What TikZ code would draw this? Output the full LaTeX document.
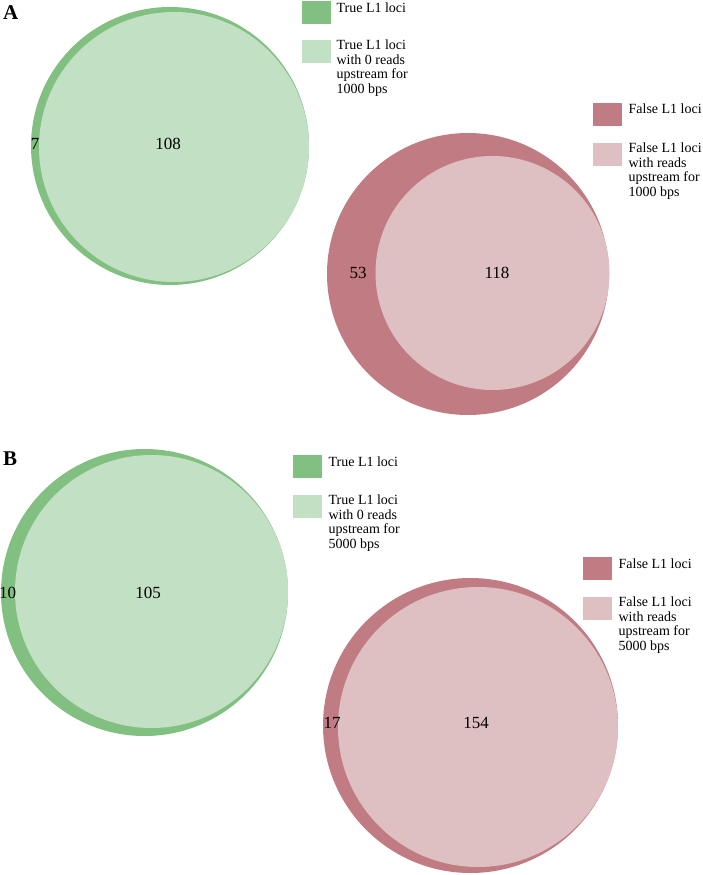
\documentclass[tikz,border=0pt]{standalone}
\usepackage{fontspec}
\setmainfont{Liberation Serif}
\usetikzlibrary{positioning}

\definecolor{tdark}{RGB}{130,192,130}
\definecolor{tlight}{RGB}{194,224,196}
\definecolor{fdark}{RGB}{192,124,130}
\definecolor{flight}{RGB}{222,192,194}

\begin{document}
\begin{tikzpicture}[x=1pt,y=-1pt,
  venn/.style={circle,inner sep=0pt,minimum size=#1},
  cnt/.style={font=\fontsize{17}{20}\selectfont,inner sep=0pt},
  swatch/.style={minimum width=29pt,minimum height=23pt,inner sep=0pt,anchor=north west},
  keytxt/.style={font=\fontsize{14}{14.4}\selectfont,align=left,inner sep=0pt,anchor=north west},
  panel/.style={font=\fontsize{21}{24}\selectfont\bfseries,inner sep=0pt,anchor=north west}]
  \useasboundingbox (0,0) rectangle (703,875);

  % panel A (1000 bps)
  \node[panel] (lblA) at (3,5) {A};
  \node[venn=278pt,fill=tdark] (trueA) at (170,146) {};
  \node[venn=270pt,fill=tlight] (trueAin) at (174,147) {};
  \node[cnt] (nA1) at (35,144) {7};
  \node[cnt] (nA2) at (168,144) {108};

  \node[venn=282pt,fill=fdark] (falseA) at (468,274) {};
  \node[venn=234pt,fill=flight] (falseAin) at (492.5,273) {};
  \node[cnt] (nA3) at (358,273) {53};
  \node[cnt] (nA4) at (497,273) {118};

  % legend A
  \node[swatch,fill=tdark] (kA1) at (302,1) {};
  \node[keytxt] (tA1) at ([xshift=5pt,yshift=-2pt]kA1.north east) {True L1 loci};
  \node[swatch,fill=tlight] (kA2) at (302,40) {};
  \node[keytxt] (tA2) at ([xshift=5pt]kA2.north east)
    {True L1 loci\\with 0 reads\\upstream for\\1000 bps};
  \node[swatch,fill=fdark] (kA3) at (593,103) {};
  \node[keytxt] (tA3) at ([xshift=6pt,yshift=-1pt]kA3.north east) {False L1 loci};
  \node[swatch,fill=flight] (kA4) at (593,143) {};
  \node[keytxt] (tA4) at ([xshift=6pt]kA4.north east)
    {False L1 loci\\with reads\\upstream for\\1000 bps};

  % panel B (5000 bps)
  \node[panel] (lblB) at (3,452) {B};
  \node[venn=287pt,fill=tdark] (trueB) at (144.5,592.5) {};
  \node[venn=273pt,fill=tlight] (trueBin) at (151.5,591.5) {};
  \node[cnt] (nB1) at (7.5,593) {10};
  \node[cnt] (nB2) at (148,593) {105};

  \node[venn=295pt,fill=fdark] (falseB) at (470.5,725.5) {};
  \node[venn=280pt,fill=flight] (falseBin) at (478,727) {};
  \node[cnt] (nB3) at (332,723) {17};
  \node[cnt] (nB4) at (476,723) {154};

  % legend B
  \node[swatch,fill=tdark] (kB1) at (293,455) {};
  \node[keytxt] (tB1) at ([xshift=6pt,yshift=-2pt]kB1.north east) {True L1 loci};
  \node[swatch,fill=tlight] (kB2) at (293,495) {};
  \node[keytxt] (tB2) at ([xshift=6pt]kB2.north east)
    {True L1 loci\\with 0 reads\\upstream for\\5000 bps};
  \node[swatch,fill=fdark] (kB3) at (583,557) {};
  \node[keytxt] (tB3) at ([xshift=6pt,yshift=-2pt]kB3.north east) {False L1 loci};
  \node[swatch,fill=flight] (kB4) at (583,597) {};
  \node[keytxt] (tB4) at ([xshift=6pt]kB4.north east)
    {False L1 loci\\with reads\\upstream for\\5000 bps};
\end{tikzpicture}
\end{document}
